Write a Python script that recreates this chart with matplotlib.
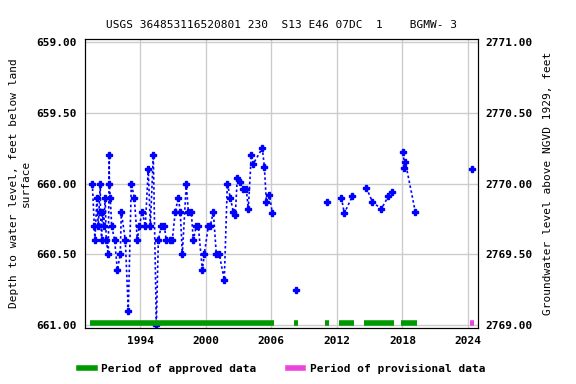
import numpy as np
import matplotlib
matplotlib.use('Agg')
import matplotlib.pyplot as plt
from matplotlib.lines import Line2D
from matplotlib.ticker import FormatStrFormatter, MultipleLocator

plt.rcParams['font.family'] = 'DejaVu Sans Mono'
plt.rcParams['font.weight'] = 'bold'
plt.rcParams['font.size'] = 8

# decimal years and depth to water (ft below land surface)
years = [
    1989.61, 1989.79, 1989.85, 1990.03, 1990.15, 1990.34, 1990.35, 1990.46, 1990.52, 1990.65,
    1990.79, 1990.88, 1991.07, 1991.16, 1991.17, 1991.25, 1991.38, 1991.65, 1991.90, 1992.17,
    1992.26, 1992.63, 1992.90, 1993.18, 1993.45, 1993.73, 1993.91, 1994.18, 1994.46, 1994.73,
    1994.92, 1995.19, 1995.47, 1995.65, 1995.92, 1996.20, 1996.38, 1996.75, 1996.93, 1997.20,
    1997.48, 1997.66, 1997.85, 1998.21, 1998.40, 1998.67, 1998.85, 1999.13, 1999.31, 1999.68,
    1999.86, 2000.23, 2000.41, 2000.69, 2000.96, 2001.23, 2001.69, 2001.97, 2002.24, 2002.52,
    2002.70, 2002.88, 2003.16, 2003.43, 2003.71, 2003.89, 2004.16, 2004.35, 2005.17, 2005.36,
    2005.54, 2005.82, 2006.09, 2008.29, 2011.12, 2012.41, 2012.68, 2013.41, 2014.70, 2015.25,
    2016.07, 2016.71, 2017.08, 2018.08, 2018.18, 2018.27, 2019.18, 2024.40,
]
depths = [
    660.00, 660.30, 660.40, 660.10, 660.30, 660.00, 660.20, 660.40, 660.20, 660.30,
    660.10, 660.40, 660.50, 659.80, 660.00, 660.10, 660.30, 660.40, 660.61, 660.50,
    660.20, 660.40, 660.90, 660.00, 660.10, 660.40, 660.30, 660.20, 660.30, 659.90,
    660.30, 659.80, 661.00, 660.40, 660.30, 660.30, 660.40, 660.40, 660.40, 660.20,
    660.10, 660.20, 660.50, 660.00, 660.20, 660.20, 660.40, 660.30, 660.30, 660.61,
    660.50, 660.30, 660.30, 660.20, 660.50, 660.50, 660.68, 660.00, 660.10, 660.20,
    660.22, 659.96, 659.99, 660.04, 660.04, 660.18, 659.80, 659.86, 659.75, 659.88,
    660.13, 660.08, 660.21, 660.75, 660.13, 660.10, 660.21, 660.09, 660.03, 660.13,
    660.18, 660.09, 660.06, 659.78, 659.89, 659.85, 660.20, 659.90,
]

approved = [(1989.39, 2006.24), (2008.07, 2008.44), (2010.91, 2011.28),
            (2012.20, 2013.57), (2014.48, 2017.23), (2017.87, 2019.34)]
provisional = [(2024.19, 2024.56)]

year_ticks = [1994, 2000, 2006, 2012, 2018, 2024]

datum = 3430.0  # land surface elevation, NGVD 1929

title = 'USGS 364853116520801 230  S13 E46 07DC  1    BGMW- 3'

# break the dotted line where there is a long gap between readings
x = np.array(years)
y = np.array(depths)
lx, ly = [x[0]], [y[0]]
for i in range(1, len(x)):
    if x[i] - x[i - 1] > 0.95:
        lx.append(np.nan)
        ly.append(np.nan)
    lx.append(x[i])
    ly.append(y[i])

fig = plt.figure(figsize=(5.76, 3.84), dpi=100)
ax = fig.add_axes([0.1476, 0.1458, 0.6823, 0.7526])

ax.plot(lx, ly, color='blue', linestyle=(0, (1.5, 1.5)), linewidth=1.2)
ax.plot(x, y, linestyle='none', marker='P', markersize=4, color='blue')

bar_y = 660.985
for a, b in approved:
    ax.plot([a, b], [bar_y, bar_y], color='#009900', linewidth=4, solid_capstyle='butt')
for a, b in provisional:
    ax.plot([a, b], [bar_y, bar_y], color='#ee44dd', linewidth=4, solid_capstyle='butt')

ax.set_xlim(1988.94, 2024.92)
ax.set_ylim(661.021, 658.979)
ax.set_xticks(year_ticks)
ax.yaxis.set_major_locator(MultipleLocator(0.5))
ax.yaxis.set_major_formatter(FormatStrFormatter('%.2f'))
ax.grid(True, color='#cccccc', linewidth=1)
ax.set_axisbelow(True)
ax.tick_params(length=0, pad=6)
ax.set_ylabel('Depth to water level, feet below land\nsurface')
ax.set_title(title, fontsize=8, pad=8)

ax2 = ax.twinx()
ax2.set_ylim(datum - 661.021, datum - 658.979)
ax2.yaxis.set_major_locator(MultipleLocator(0.5))
ax2.yaxis.set_major_formatter(FormatStrFormatter('%.2f'))
ax2.tick_params(length=0, pad=5)
ax2.set_ylabel('Groundwater level above NGVD 1929, feet', labelpad=8)

handles = [Line2D([], [], color='#009900', linewidth=4),
           Line2D([], [], color='#ee44dd', linewidth=4)]
fig.legend(handles, ['Period of approved data', 'Period of provisional data'],
           loc='lower center', bbox_to_anchor=(0.49, 0.0), ncol=2, frameon=False,
           handlelength=1.4, handletextpad=0.6, columnspacing=2.8)

fig.savefig('out.png', dpi=100)
